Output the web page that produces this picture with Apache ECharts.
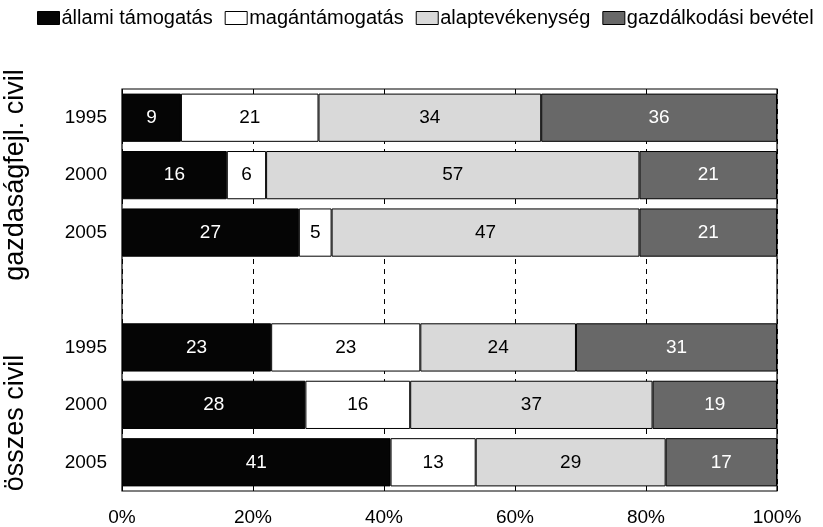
<!DOCTYPE html>
<html lang="hu">
<head>
<meta charset="UTF-8">
<title>Bevételi szerkezet</title>
<script src="https://cdn.jsdelivr.net/npm/echarts@6/dist/echarts.min.js"></script>
</head>
<body style="margin:0">
<div id="main" style="width:823px;height:527px;"></div>
<script>
// sorok: gazdaságfejl. civil (1995, 2000, 2005), üres sor, összes civil (1995, 2000, 2005)
var categories = ['1995', '2000', '2005', '', '1995', '2000', '2005'];
var seriesNames = ['állami támogatás', 'magántámogatás', 'alaptevékenység', 'gazdálkodási bevétel'];
var allami      = [9, 16, 27, null, 23, 28, 41];
var magan       = [21, 6, 5, null, 23, 16, 13];
var alap        = [34, 57, 47, null, 24, 37, 29];
var gazdalkodas = [36, 21, 21, null, 31, 19, 17];
var xTickLabels = ['0%', '20%', '40%', '60%', '80%', '100%'];

var raw = [allami, magan, alap, gazdalkodas];
var fills = ['#050505', '#ffffff', '#d9d9d9', '#686868'];
var textColors = ['#ffffff', '#000000', '#000000', '#ffffff'];

// sorösszegek, hogy minden sor 100%-ra jöjjön ki
var totals = categories.map(function (c, i) {
    var s = 0;
    raw.forEach(function (arr) { if (arr[i] != null) s += arr[i]; });
    return s;
});

var series = raw.map(function (arr, k) {
    return {
        name: seriesNames[k],
        type: 'bar',
        stack: 'all',
        barCategoryGap: '16%',
        itemStyle: { color: fills[k], borderColor: '#000', borderWidth: 1 },
        label: {
            show: true,
            position: 'inside',
            color: textColors[k],
            fontSize: 19,
            fontFamily: 'Liberation Sans',
            formatter: function (p) { return arr[p.dataIndex]; }
        },
        data: arr.map(function (v, i) {
            return v == null ? '-' : v / totals[i] * 100;
        })
    };
});

var myChart = echarts.init(document.getElementById('main'));
var option = {
    animation: false,
    textStyle: { fontFamily: 'Liberation Sans' },
    legend: {
        top: 8,
        left: 37,
        width: 800,
        padding: 0,
        itemGap: 12,
        itemWidth: 22,
        itemHeight: 13,
        icon: 'rect',
        textStyle: { fontSize: 20, color: '#000', padding: [0, 0, 0, -3] },
        data: seriesNames.map(function (n, k) {
            return { name: n, itemStyle: { color: fills[k], borderColor: '#000', borderWidth: 1 } };
        })
    },
    grid: {
        left: 122, right: 46, top: 89, bottom: 36,
        show: true, borderColor: '#000', borderWidth: 1.2
    },
    xAxis: [{
        type: 'value',
        min: 0, max: 100, interval: 20,
        axisLine: { show: false },
        axisTick: { show: true, inside: true, length: 5, lineStyle: { color: '#000' } },
        splitLine: { show: true, lineStyle: { color: '#000', type: [5, 5] } },
        axisLabel: {
            fontSize: 19, color: '#000', margin: 17,
            formatter: function (v) { return xTickLabels[v / 20]; }
        }
    }, {
        type: 'value',
        position: 'top',
        min: 0, max: 100, interval: 20,
        axisLine: { show: false },
        axisTick: { show: true, inside: true, length: 5, lineStyle: { color: '#000' } },
        splitLine: { show: false },
        axisLabel: { show: false }
    }],
    yAxis: {
        type: 'category',
        inverse: true,
        data: categories,
        axisLine: { show: false },
        axisTick: { show: false },
        axisLabel: { fontSize: 19, color: '#000', margin: 15 }
    },
    graphic: [{
        type: 'text',
        x: 16, y: 175,
        rotation: Math.PI / 2,
        style: {
            text: 'gazdaságfejl. civil',
            fontSize: 27, fontFamily: 'Liberation Sans', fill: '#000',
            align: 'center', verticalAlign: 'middle'
        }
    }, {
        type: 'text',
        x: 16, y: 423,
        rotation: Math.PI / 2,
        style: {
            text: 'összes civil',
            fontSize: 27, fontFamily: 'Liberation Sans', fill: '#000',
            align: 'center', verticalAlign: 'middle'
        }
    }],
    series: series
};
myChart.setOption(option);
</script>
</body>
</html>
